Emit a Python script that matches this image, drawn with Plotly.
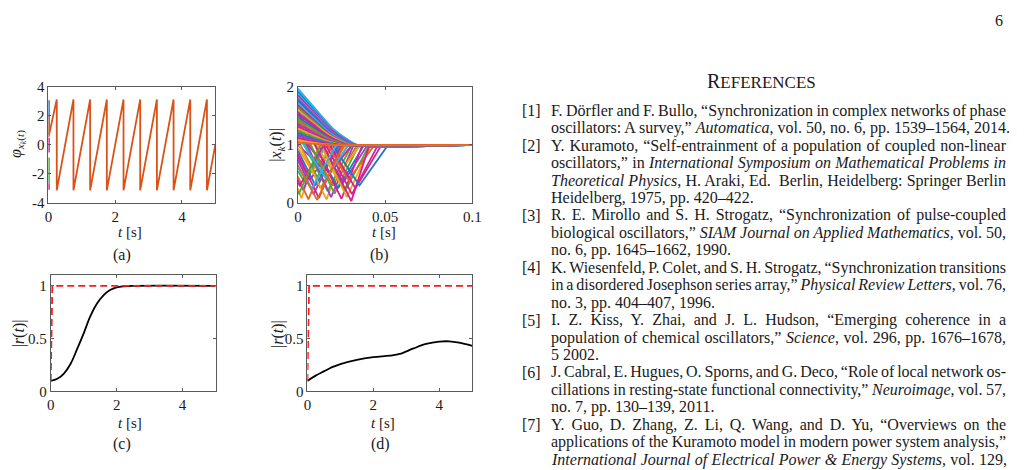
import json
import plotly.graph_objects as go

W, H = 1025, 470
SERIF = "Liberation Serif, Times New Roman, serif"
AXC = "#5a5a5a"
TXT = "#1a1a1a"


def px(x):
    return x / W


def py(y):
    return 1 - y / H


# ---------------- data ----------------
# (a) phase of the reference oscillator (sawtooth wrapped to [-pi, pi])
A_T = [0.0, 0.25, 0.25, 0.75, 0.75, 1.25, 1.25, 1.75, 1.75, 2.25, 2.25,
       2.75, 2.75, 3.25, 3.25, 3.75, 3.75, 4.25, 4.25, 4.75, 4.75, 5.0]
A_PHI = [0.5, 3.14, -3.14, 3.14, -3.14, 3.14, -3.14, 3.14, -3.14, 3.14, -3.14,
         3.14, -3.14, 3.14, -3.14, 3.14, -3.14, 3.14, -3.14, 3.14, -3.14, 0.0]
# initial phases of the other oscillators (visible only at t ~ 0)
A_INIT_LO = [3.0, 2.05, 0.7, -0.53, -2.64, -3.1]
A_INIT_HI = [3.12, 3.05, 2.05, 0.47, -0.87, -2.64]
A_INIT_COLORS = ["#EDB120", "#1f77c4", "#a0522d", "#d91f8f", "#4fa83a", "#d91f8f"]

# (b) amplitudes |x_k(t)|
B_PALETTE = ["#1f77c4", "#e8651b", "#f2a31b", "#9d3bd0", "#4fa83a", "#2bb6ea", "#d91f8f"]
# oscillators decaying from above onto the unit circle
B_DECAY_START = [1.97, 1.95, 1.93, 1.91, 1.88, 1.85, 1.82, 1.79, 1.76, 1.72, 1.68, 1.64,
                 1.60, 1.56, 1.52, 1.48, 1.44, 1.40, 1.36, 1.32, 1.28, 1.24, 1.20, 1.16,
                 1.12, 1.08, 1.04]
B_DECAY_SETTLE = [0.034, 0.034, 0.034, 0.033, 0.033, 0.033, 0.032, 0.032, 0.031, 0.031, 0.030, 0.030,
                  0.030, 0.029, 0.029, 0.028, 0.028, 0.027, 0.027, 0.026, 0.026, 0.025, 0.024, 0.023,
                  0.022, 0.021, 0.019]
B_DECAY_COLOR = [5, 5, 5, 0, 5, 6, 5, 3, 0, 5, 6, 4, 2, 3, 6, 0, 4, 1, 3, 6, 2, 4, 0, 3, 6, 2, 1]
B_DECAY_SHAPE_T = [0.0, 0.32, 0.59, 0.82, 1.0]
B_DECAY_SHAPE_Y = [1.0, 0.61, 0.29, 0.105, 0.0]

# oscillators passing close to the origin (V-shaped dips)
B_DIP_START = [0.25, 0.40, 0.55, 0.70, 0.45, 0.80, 0.95, 0.75, 0.90, 1.05, 0.85, 1.10,
               1.00, 1.20, 1.05, 1.30, 1.25, 1.35, 1.40, 1.45, 1.50, 1.55, 1.60, 1.70,
               1.75, 1.80, 1.85, 1.88, 1.90, 1.92, 1.90, 0.60, 0.35, 0.20, 1.15, 0.65]
B_DIP_TMIN = [0.002, 0.003, 0.004, 0.005, 0.006, 0.007, 0.008, 0.009, 0.010, 0.011, 0.012, 0.013,
              0.014, 0.015, 0.0164, 0.017, 0.018, 0.019, 0.020, 0.021, 0.022, 0.023, 0.025, 0.026,
              0.027, 0.028, 0.029, 0.0306, 0.031, 0.033, 0.0353, 0.008, 0.001, 0.0005, 0.016, 0.011]
B_DIP_YMIN = [0.08, 0.22, 0.35, 0.50, 0.06, 0.40, 0.55, 0.15, 0.30, 0.45, 0.08, 0.25,
              0.60, 0.35, 0.06, 0.20, 0.50, 0.10, 0.30, 0.16, 0.45, 0.25, 0.07, 0.35,
              0.20, 0.10, 0.40, 0.03, 0.15, 0.25, 0.30, 0.25, 0.30, 0.15, 0.42, 0.05]
B_DIP_SETTLE = [0.012, 0.014, 0.016, 0.017, 0.019, 0.020, 0.021, 0.023, 0.024, 0.025, 0.025, 0.027,
                0.026, 0.029, 0.028, 0.031, 0.031, 0.032, 0.034, 0.035, 0.036, 0.038, 0.037, 0.040,
                0.041, 0.042, 0.044, 0.041, 0.046, 0.048, 0.0517, 0.022, 0.015, 0.013, 0.029, 0.026]
B_DIP_COLOR = [2, 3, 4, 5, 1, 6, 2, 3, 0, 4, 6, 1, 3, 4, 2, 4, 6, 3, 1, 4, 2, 0, 6, 3,
               4, 2, 1, 6, 6, 6, 0, 5, 6, 4, 5, 1]

# (c) synchronised case, (d) non-synchronised case: order parameter |r(t)|
C_T = [0.0, 0.2, 0.4, 0.6, 0.8, 1.0, 1.2, 1.4, 1.6, 1.8, 2.0, 2.2, 2.5, 5.0]
C_R = [0.10, 0.12, 0.17, 0.26, 0.40, 0.55, 0.71, 0.83, 0.91, 0.96, 0.985, 0.995, 1.0, 1.0]
D_T = [0.0, 0.25, 0.5, 0.75, 1.0, 1.5, 2.0, 2.5, 2.8, 3.2, 3.6, 4.0, 4.3, 4.6, 5.0]
D_R = [0.10, 0.15, 0.19, 0.23, 0.26, 0.30, 0.325, 0.34, 0.355, 0.405, 0.45, 0.472, 0.475, 0.462, 0.432]
RED_T = [0.0, 0.05, 5.0]
RED_R = [0.10, 1.0, 1.0]

# tick labels
TICK_T5 = [0, 2, 4]
TICK_T5_TEXT = ["0", "2", "4"]
TICK_PHI = [-4, -2, 0, 2, 4]
TICK_PHI_TEXT = ["-4", "-2", "0", "2", "4"]
TICK_TB = [0, 0.05, 0.1]
TICK_TB_TEXT = ["0", "0.05", "0.1"]
TICK_XB = [0, 1, 2]
TICK_XB_TEXT = ["0", "1", "2"]
TICK_R = [0, 0.5, 1]
TICK_R_TEXT = ["0", "0.5", "1"]

# references text
REF_LINES = [
    ("[1]", "F. Dörfler and F. Bullo, “Synchronization in complex networks of phase", True),
    ("", "oscillators: A survey,” <i>Automatica</i>, vol. 50, no. 6, pp. 1539–1564, 2014.", False),
    ("[2]", "Y. Kuramoto, “Self-entrainment of a population of coupled non-linear", True),
    ("", "oscillators,” in <i>International Symposium on Mathematical Problems in</i>", True),
    ("", "<i>Theoretical Physics</i>, H. Araki, Ed.  Berlin, Heidelberg: Springer Berlin", True),
    ("", "Heidelberg, 1975, pp. 420–422.", False),
    ("[3]", "R. E. Mirollo and S. H. Strogatz, “Synchronization of pulse-coupled", True),
    ("", "biological oscillators,” <i>SIAM Journal on Applied Mathematics</i>, vol. 50,", True),
    ("", "no. 6, pp. 1645–1662, 1990.", False),
    ("[4]", "K. Wiesenfeld, P. Colet, and S. H. Strogatz, “Synchronization transitions", True),
    ("", "in a disordered Josephson series array,” <i>Physical Review Letters</i>, vol. 76,", True),
    ("", "no. 3, pp. 404–407, 1996.", False),
    ("[5]", "I. Z. Kiss, Y. Zhai, and J. L. Hudson, “Emerging coherence in a", True),
    ("", "population of chemical oscillators,” <i>Science</i>, vol. 296, pp. 1676–1678,", True),
    ("", "5 2002.", False),
    ("[6]", "J. Cabral, E. Hugues, O. Sporns, and G. Deco, “Role of local network os-", True),
    ("", "cillations in resting-state functional connectivity,” <i>Neuroimage</i>, vol. 57,", True),
    ("", "no. 7, pp. 130–139, 2011.", False),
    ("[7]", "Y. Guo, D. Zhang, Z. Li, Q. Wang, and D. Yu, “Overviews on the", True),
    ("", "applications of the Kuramoto model in modern power system analysis,”", True),
    ("", "<i>International Journal of Electrical Power &amp; Energy Systems</i>, vol. 129,", True),
]

# ---------------- figure ----------------
fig = go.Figure()

# (a)
for lo, hi, col in zip(A_INIT_LO, A_INIT_HI, A_INIT_COLORS):
    fig.add_trace(go.Scatter(x=[0.012, 0.012], y=[lo, hi], mode="lines",
                             line=dict(color=col, width=2), xaxis="x", yaxis="y"))
fig.add_trace(go.Scatter(x=A_T, y=A_PHI, mode="lines",
                         line=dict(color="#D95319", width=1.8), xaxis="x", yaxis="y"))

# (b) dipping amplitudes
for y0, tm, ym, ts, ci in zip(B_DIP_START, B_DIP_TMIN, B_DIP_YMIN, B_DIP_SETTLE, B_DIP_COLOR):
    fig.add_trace(go.Scatter(x=[0, tm, ts, 0.1], y=[y0, ym, 1.0, 1.0], mode="lines",
                             line=dict(color=B_PALETTE[ci], width=1.8),
                             xaxis="x2", yaxis="y2"))
# (b) decaying amplitudes
for y0, ts, ci in zip(B_DECAY_START, B_DECAY_SETTLE, B_DECAY_COLOR):
    xs = [ts * f for f in B_DECAY_SHAPE_T] + [0.1]
    ys = [1 + (y0 - 1) * g for g in B_DECAY_SHAPE_Y] + [1.0]
    fig.add_trace(go.Scatter(x=xs, y=ys, mode="lines", line_shape="spline",
                             line=dict(color=B_PALETTE[ci], width=1.8, smoothing=0.8),
                             xaxis="x2", yaxis="y2"))

# (c)
fig.add_trace(go.Scatter(x=C_T, y=C_R, mode="lines", line_shape="spline",
                         line=dict(color="black", width=1.8), xaxis="x3", yaxis="y3"))
fig.add_trace(go.Scatter(x=RED_T, y=RED_R, mode="lines",
                         line=dict(color="#ff1a1a", width=1.8, dash="7px,4px"),
                         xaxis="x3", yaxis="y3"))
# (d)
fig.add_trace(go.Scatter(x=D_T, y=D_R, mode="lines", line_shape="spline",
                         line=dict(color="black", width=1.8), xaxis="x4", yaxis="y4"))
fig.add_trace(go.Scatter(x=RED_T, y=RED_R, mode="lines",
                         line=dict(color="#ff1a1a", width=1.8, dash="7px,4px"),
                         xaxis="x4", yaxis="y4"))


def ax(domain, rng, tv, tt, anchor):
    return dict(domain=domain, range=rng, tickvals=tv, ticktext=tt, anchor=anchor,
                showline=True, linecolor=AXC, linewidth=1, mirror="ticks",
                ticks="inside", ticklen=3, tickcolor=AXC, tickwidth=1,
                showgrid=False, zeroline=False, fixedrange=True,
                tickfont=dict(family=SERIF, size=15, color=TXT))


TOP1, BOT1 = 81.7, 201.7
TOP2, BOT2 = 276.7, 397.0
fig.update_layout(
    width=W, height=H, margin=dict(l=0, r=0, t=0, b=0),
    paper_bgcolor="white", plot_bgcolor="white", showlegend=False,
    xaxis=ax([px(45), px(214)], [0, 5], TICK_T5, TICK_T5_TEXT, "y"),
    yaxis=ax([py(BOT1), py(TOP1)], [-4, 4], TICK_PHI, TICK_PHI_TEXT, "x"),
    xaxis2=ax([px(297.7), px(474.3)], [0, 0.1], TICK_TB, TICK_TB_TEXT, "y2"),
    yaxis2=ax([py(BOT1), py(TOP1)], [0, 2], TICK_XB, TICK_XB_TEXT, "x2"),
    xaxis3=ax([px(47.3), px(214.3)], [0, 5], TICK_T5, TICK_T5_TEXT, "y3"),
    yaxis3=ax([py(BOT2), py(TOP2)], [0, 1.1], TICK_R, TICK_R_TEXT, "x3"),
    xaxis4=ax([px(307.3), px(474.3)], [0, 5], TICK_T5, TICK_T5_TEXT, "y4"),
    yaxis4=ax([py(BOT2), py(TOP2)], [0, 1.1], TICK_R, TICK_R_TEXT, "x4"),
)

anns = []


def note(x, y, text, size=15, xanchor="center", yanchor="middle", angle=0, align="center"):
    anns.append(dict(x=px(x), y=py(y), xref="paper", yref="paper", text=text,
                     showarrow=False, xanchor=xanchor, yanchor=yanchor, textangle=angle,
                     align=align, borderpad=0,
                     font=dict(family=SERIF, size=size, color=TXT)))


TLAB = "<i>t</i> [s]"
note(128, 232, TLAB)
note(385, 232, TLAB)
note(128, 430, TLAB)
note(384, 430, TLAB)
note(120, 256, "(a)", 16)
note(380, 256, "(b)", 16)
note(120, 451, "(c)", 16)
note(381, 451, "(d)", 16)
note(14, 141, "<i>φ</i><sub><i>x<sub>k</sub></i>(<i>t</i>)</sub>", 16, angle=-90)
note(276, 141, "|<i>x<sub>k</sub></i>(<i>t</i>)|", 16, angle=-90)
note(15, 337, "|<i>r</i>(<i>t</i>)|", 16, angle=-90)
note(277, 337, "|<i>r</i>(<i>t</i>)|", 16, angle=-90)

note(1008, 13, "6", 16)
note(767, 76, "R<span style='font-size:17px'>EFERENCES</span>", 20)

LINE0, LSTEP = 106.5, 18.05
TEXT_X, TEXT_R = 553, 1008
justify = []
for i, (lab, txt, just) in enumerate(REF_LINES):
    yy = LINE0 + i * LSTEP
    if lab:
        note(545, yy, lab, 16, xanchor="right", align="right")
    note(TEXT_X, yy, txt, 16, xanchor="left", align="left")
    if just:
        justify.append(txt)

fig.update_layout(annotations=anns)

JS = """
var gd = document.getElementById('{plot_id}');
var J = new Set(%s);
var W = %f;
gd.querySelectorAll('text.annotation-text').forEach(function(el){
  var u = el.getAttribute('data-unformatted');
  if (!J.has(u)) return;
  var L = el.getComputedTextLength();
  var n = (el.textContent.match(/ /g) || []).length;
  if (n > 0) { el.style.wordSpacing = ((W - L) / n) + 'px'; }
});
""" % (json.dumps(justify), TEXT_R - TEXT_X)

fig.write_html("out.html", post_script=JS)
